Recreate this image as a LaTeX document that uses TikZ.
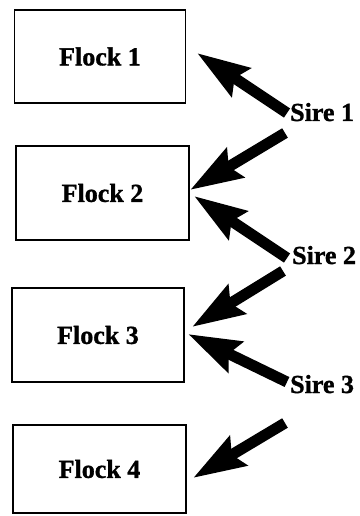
\documentclass[tikz,border=0pt]{standalone}
\usepackage{fontspec}
\setmainfont{Liberation Serif}[BoldFeatures={FakeBold=1.2}]
\usetikzlibrary{arrows.meta}
\begin{document}
\begin{tikzpicture}[x=1pt,y=-1pt,
  flock/.style={draw=black,line width=1.3pt,inner sep=0pt,
    font=\fontsize{26}{30}\selectfont\bfseries},
  sire/.style={inner sep=0pt,anchor=base west,
    font=\fontsize{26}{30}\selectfont\bfseries},
  bigarrow/.style={line width=11pt,
    -{Stealth[length=52pt,width=33pt,inset=7pt]}}]
\useasboundingbox (0,0) rectangle (359,516);
\node[flock,minimum width=171pt,minimum height=93pt] (f1) at (100,56.5) {Flock 1};
\node[flock,minimum width=173pt,minimum height=94pt] (f2) at (102.5,193) {Flock 2};
\node[flock,minimum width=172pt,minimum height=94pt] (f3) at (98,335) {Flock 3};
\node[flock,minimum width=173pt,minimum height=88pt] (f4) at (99.5,469) {Flock 4};
\node[sire] (s1) at (290,121) {Sire 1};
\node[sire] (s2) at (292,264) {Sire 2};
\node[sire] (s3) at (290,393) {Sire 3};
% arrow tails and tips
\coordinate (t1) at (287,113); \coordinate (h1) at (197,53);
\coordinate (t2) at (285,133); \coordinate (h2) at (190,190);
\coordinate (t3) at (287,258); \coordinate (h3) at (194,196);
\coordinate (t4) at (283,271); \coordinate (h4) at (192,327);
\coordinate (t5) at (287,382); \coordinate (h5) at (188,334);
\coordinate (t6) at (285,423); \coordinate (h6) at (193,478);
\draw[bigarrow] (t1) -- (h1);
\draw[bigarrow] (t2) -- (h2);
\draw[bigarrow] (t3) -- (h3);
\draw[bigarrow] (t4) -- (h4);
\draw[bigarrow] (t5) -- (h5);
\draw[bigarrow] (t6) -- (h6);
\end{tikzpicture}
\end{document}
